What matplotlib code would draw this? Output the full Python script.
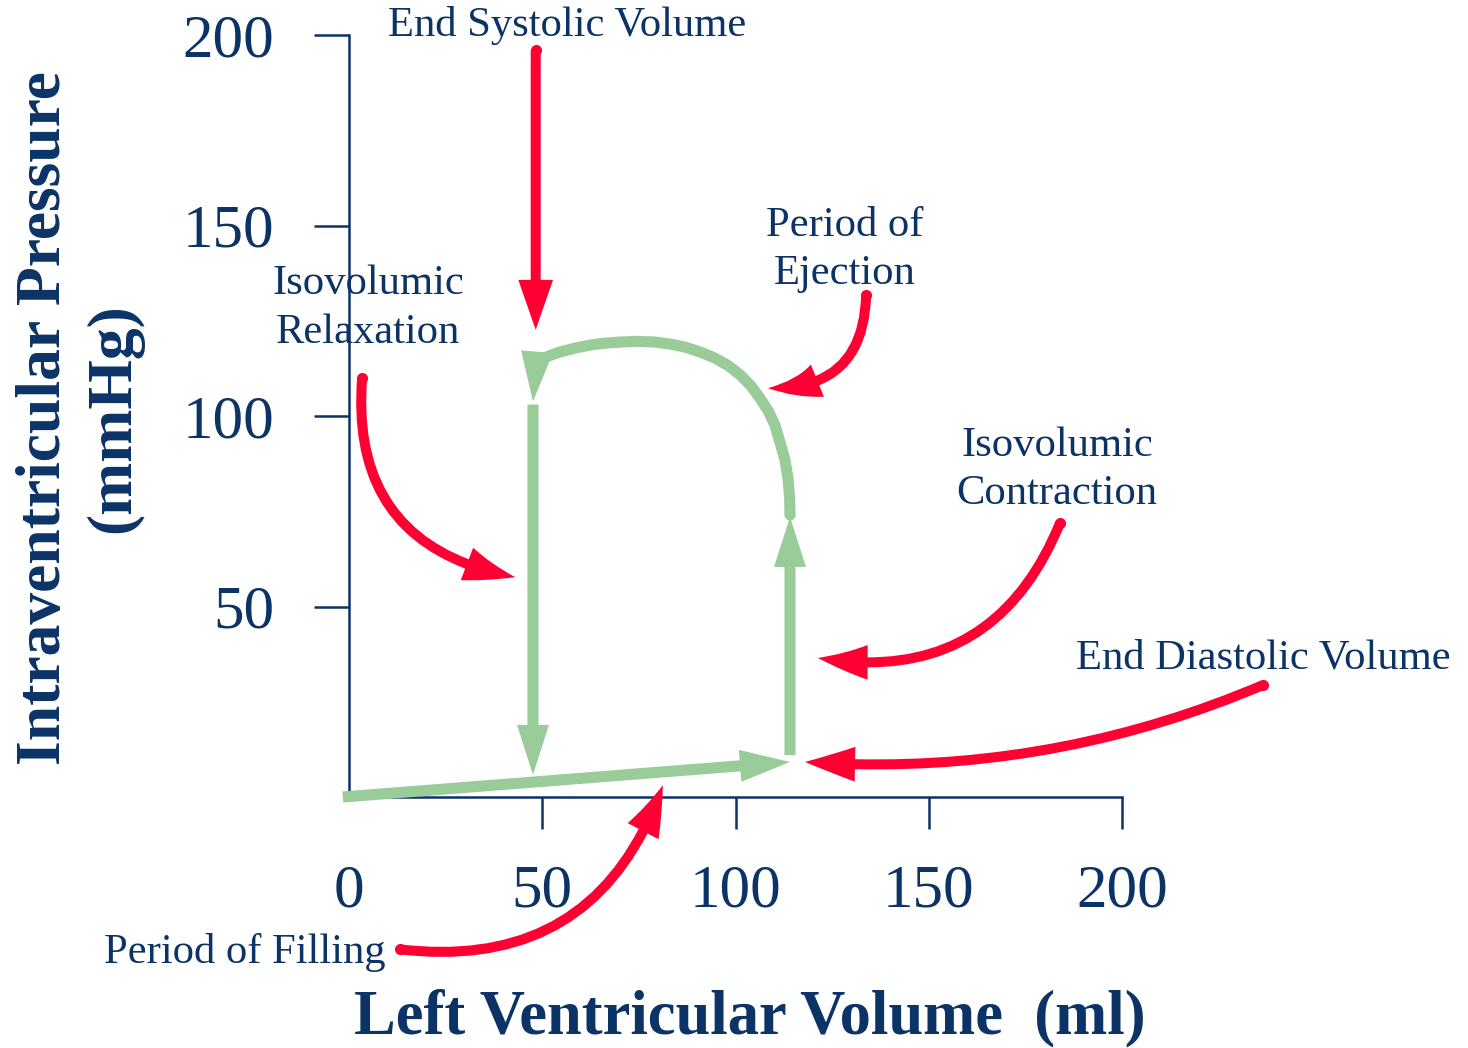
import matplotlib
matplotlib.use('Agg')
import matplotlib.pyplot as plt

NAVY = '#0b3366'
RED = '#ff0033'
GREEN = '#99cc99'

plt.rcParams['font.family'] = ['Liberation Serif', 'DejaVu Serif']

# ---------------------------------- data (volume ml, pressure mmHg)
x_ticks = [0, 50, 100, 150, 200]
y_ticks = [50, 100, 150, 200]

# filling phase
fill_vol = [-1.6, 114.1]
fill_pres = [0.0, 9.2]
# isovolumic contraction
contr_vol = [114.1, 114.1]
contr_pres = [11.0, 73.5]
# ejection curve
eject_vol = [114.1, 114.0, 113.6, 112.8, 111.4, 110.2, 108.5, 106.3, 104.0,
             101.2, 98.0, 94.7, 90.9, 86.9, 83.0, 79.2, 74.6, 70.1, 66.0,
             62.3, 58.4, 54.6, 51.8, 49.4, 48.4]
eject_pres = [74.0, 78.5, 83.5, 88.5, 93.5, 97.6, 101.3, 104.7, 107.9,
              110.8, 113.3, 115.2, 116.8, 118.1, 118.9, 119.4, 119.6, 119.4, 119.1,
              118.6, 117.8, 116.8, 115.8, 114.7, 113.8]
eject_tip = (47.6, 103.8)
# isovolumic relaxation
relax_vol = [47.6, 47.6]
relax_pres = [103.0, 5.8]

# annotations: label, text pos, arrow start, arrow tip, curvature
labels = ['End Systolic Volume', 'Isovolumic\nRelaxation', 'Period of\nEjection',
          'Isovolumic\nContraction', 'End Diastolic Volume', 'Period of Filling']
text_pos = [(56.4, 202.6), (4.9, 128.3), (128.3, 143.6), (183.2, 85.8),
            (236.5, 36.5), (-26.9, -40.7)]
arrow_start = [(48.3, 196.0), (3.4, 110.0), (133.8, 131.8), (184.0, 72.0),
               (236.5, 29.4), (13.2, -40.0)]
arrow_tip = [(48.3, 122.6), (43.0, 57.7), (108.4, 107.3), (121.3, 36.5),
             (118.0, 9.2), (81.2, 3.1)]
arrow_rad = [0.0, 0.45, -0.5, -0.4, -0.12, 0.4]

# ---------------------------------- figure
fig = plt.figure(figsize=(14.68, 10.48), dpi=100)
ax = fig.add_axes([349/1468, 1-797/1048, (1122-349)/1468, (797-35)/1048])
ax.set_xlim(0, 200)
ax.set_ylim(0, 200)

for s in ['top', 'right']:
    ax.spines[s].set_visible(False)
for s in ['left', 'bottom']:
    ax.spines[s].set_color(NAVY)
    ax.spines[s].set_linewidth(1.8)

ax.set_xticks(x_ticks)
ax.set_yticks(y_ticks)
ax.tick_params(axis='both', colors=NAVY, width=1.8, labelsize=44,
               labelcolor=NAVY)
ax.tick_params(axis='y', length=25, pad=29)
ax.tick_params(axis='x', length=23, pad=25)
ax.xaxis.get_major_ticks()[0].tick1line.set_visible(False)

# ---------------------------------- green PV loop
green_arrow = dict(arrowstyle='simple,head_length=1.8,head_width=1.15,tail_width=0.4',
                   color=GREEN, shrinkA=0, shrinkB=0, lw=0, mutation_scale=20)

def green(start, end):
    ax.annotate('', xy=end, xytext=start, arrowprops=green_arrow,
                annotation_clip=False)

green((fill_vol[0], fill_pres[0]), (fill_vol[1], fill_pres[1]))
green((contr_vol[0], contr_pres[0]), (contr_vol[1], contr_pres[1]))
ax.plot(eject_vol, eject_pres, color=GREEN, lw=8, solid_capstyle='round',
        solid_joinstyle='round', clip_on=False)
green((eject_vol[-1], eject_pres[-1]), eject_tip)
green((relax_vol[0], relax_pres[0]), (relax_vol[1], relax_pres[1]))

# ---------------------------------- red annotations
for lab, tp, st, tip, rad in zip(labels, text_pos, arrow_start, arrow_tip, arrow_rad):
    ax.text(tp[0], tp[1], lab, color=NAVY, fontsize=30.7, ha='center',
            va='center', linespacing=1.33, clip_on=False)
    ax.annotate('', xy=tip, xytext=st, annotation_clip=False,
                arrowprops=dict(arrowstyle='simple,head_length=1.8,head_width=1.25,tail_width=0.36',
                                connectionstyle='arc3,rad=%s' % rad,
                                color=RED, lw=0, shrinkA=0, shrinkB=0,
                                mutation_scale=20))
    # rounded tail end
    ax.plot([st[0]], [st[1]], 'o', color=RED, ms=7, clip_on=False)

# ---------------------------------- axis titles
fig.text(750/1468, 1-1033/1048, 'Left Ventricular Volume  (ml)', color=NAVY,
         fontsize=45, fontweight='bold', ha='center', va='baseline')
fig.text(80/1468, 1-418/1048, 'Intraventricular Pressure\n(mmHg)', color=NAVY,
         fontsize=45.8, fontweight='bold', ha='center', va='center',
         rotation=90, linespacing=1.25, multialignment='center')

fig.savefig('out.png', dpi=100)
